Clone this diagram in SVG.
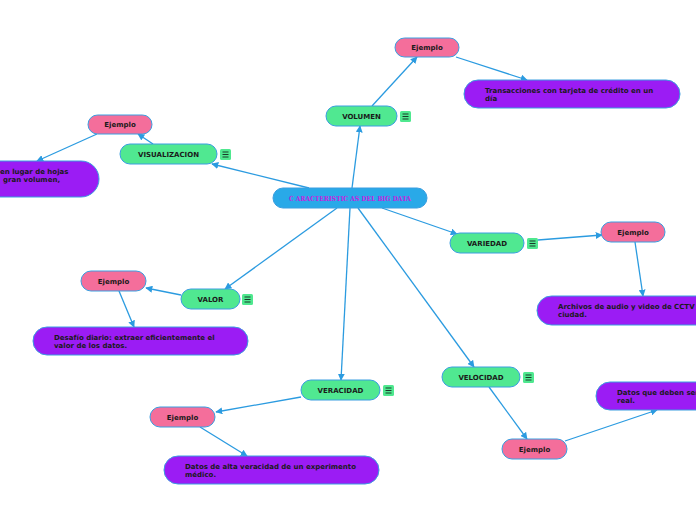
<svg xmlns="http://www.w3.org/2000/svg" width="696" height="520" viewBox="0 0 696 520">
<defs>
<marker id="ah" viewBox="0 0 10 10" refX="9" refY="5" markerWidth="7" markerHeight="7" orient="auto" markerUnits="userSpaceOnUse">
<path d="M0,0 L10,5 L0,10 z" fill="#2b9be0"/>
</marker>
<g id="menu">
<rect x="0" y="0" width="11" height="11" rx="1.5" fill="#4fe88f"/>
<path d="M2.5,3 H8.5 M2.5,5.5 H8.5 M2.5,8 H8.5" stroke="#1a3a2a" stroke-width="1.1"/>
</g>
</defs>
<style>
.c{stroke:#2b9be0;stroke-width:1.3;fill:none;marker-end:url(#ah)}
.n{stroke:#3a9ee0;stroke-width:1}
.g{fill:#50e891}
.p{fill:#f46e9b}
.v{fill:#9b1cf4}
.t{font-family:"DejaVu Sans",Verdana,sans-serif;font-weight:bold;font-size:7px;fill:#1a1a1a}
.m{text-anchor:middle}
</style>
<rect width="696" height="520" fill="#ffffff"/>
<g id="connectors">
<line class="c" x1="352" y1="188" x2="360" y2="126"/>
<line class="c" x1="372" y1="106" x2="417" y2="57"/>
<line class="c" x1="456" y1="57" x2="527" y2="80"/>
<line class="c" x1="309" y1="188" x2="212" y2="164"/>
<line class="c" x1="153" y1="144" x2="138" y2="134"/>
<line class="c" x1="97" y1="134" x2="37" y2="161"/>
<line class="c" x1="382" y1="208" x2="457" y2="234"/>
<line class="c" x1="538" y1="240" x2="602" y2="235"/>
<line class="c" x1="635" y1="242" x2="643" y2="296"/>
<line class="c" x1="337" y1="208" x2="225" y2="289"/>
<line class="c" x1="181" y1="295" x2="146" y2="288"/>
<line class="c" x1="119" y1="291" x2="134" y2="327"/>
<line class="c" x1="350" y1="208" x2="341" y2="380"/>
<line class="c" x1="301" y1="397" x2="216" y2="412"/>
<line class="c" x1="200" y1="427" x2="247" y2="456"/>
<line class="c" x1="358" y1="208" x2="474" y2="367"/>
<line class="c" x1="489" y1="387" x2="527" y2="439"/>
<line class="c" x1="565" y1="441" x2="657" y2="410"/>
</g>
<g id="center">
<rect class="n" x="273" y="188" width="154" height="20" rx="10" fill="#29a9e8"/>
<text x="350" y="200.5" text-anchor="middle" font-family="'DejaVu Serif','Liberation Serif',serif" font-weight="bold" font-size="7" fill="#c51fe0" textLength="122" lengthAdjust="spacingAndGlyphs">C ARACTERISTIC AS DEL BIG DATA</text>
</g>
<g id="volumen">
<rect class="n g" x="326" y="106" width="71" height="20" rx="10"/>
<text class="t m" x="361.5" y="118.5">VOLUMEN</text>
<use href="#menu" x="400" y="111"/>
</g>
<g id="ej-volumen">
<rect class="n p" x="395" y="38" width="64" height="19" rx="9.5"/>
<text class="t m" x="427" y="50">Ejemplo</text>
</g>
<g id="ex-volumen">
<rect class="n v" x="464" y="80" width="216" height="28" rx="14"/>
<text class="t" x="485" y="93">Transacciones con tarjeta de crédito en un</text>
<text class="t" x="485" y="101">día</text>
</g>
<g id="visualizacion">
<rect class="n g" x="120" y="144" width="97" height="20" rx="10"/>
<text class="t m" x="168.5" y="156.5">VISUALIZACION</text>
<use href="#menu" x="220" y="149"/>
</g>
<g id="ej-visualizacion">
<rect class="n p" x="88" y="115" width="64" height="19" rx="9.5"/>
<text class="t m" x="120" y="127">Ejemplo</text>
</g>
<g id="ex-visualizacion">
<rect class="n v" x="-120" y="161" width="219" height="36" rx="18"/>
<text class="t" x="0" y="174">en lugar de hojas</text>
<text class="t" x="3" y="182">gran volumen,</text>
</g>
<g id="variedad">
<rect class="n g" x="450" y="233" width="74" height="20" rx="10"/>
<text class="t m" x="487" y="245.5">VARIEDAD</text>
<use href="#menu" x="527" y="238"/>
</g>
<g id="ej-variedad">
<rect class="n p" x="601" y="222" width="64" height="20" rx="10"/>
<text class="t m" x="633" y="234.5">Ejemplo</text>
</g>
<g id="ex-variedad">
<rect class="n v" x="537" y="296" width="200" height="29" rx="14.5"/>
<text class="t" x="558" y="309">Archivos de audio y video de CCTV</text>
<text class="t" x="558" y="317">ciudad.</text>
</g>
<g id="valor">
<rect class="n g" x="181" y="289" width="59" height="20" rx="10"/>
<text class="t m" x="210.5" y="301.5">VALOR</text>
<use href="#menu" x="242" y="294"/>
</g>
<g id="ej-valor">
<rect class="n p" x="81" y="271" width="65" height="20" rx="10"/>
<text class="t m" x="113.5" y="283.5">Ejemplo</text>
</g>
<g id="ex-valor">
<rect class="n v" x="33" y="327" width="215" height="28" rx="14"/>
<text class="t" x="54" y="340">Desafío diario: extraer eficientemente el</text>
<text class="t" x="54" y="348">valor de los datos.</text>
</g>
<g id="veracidad">
<rect class="n g" x="301" y="380" width="79" height="20" rx="10"/>
<text class="t m" x="340.5" y="392.5">VERACIDAD</text>
<use href="#menu" x="383" y="385"/>
</g>
<g id="ej-veracidad">
<rect class="n p" x="150" y="407" width="65" height="20" rx="10"/>
<text class="t m" x="182.5" y="419.5">Ejemplo</text>
</g>
<g id="ex-veracidad">
<rect class="n v" x="164" y="456" width="215" height="28" rx="14"/>
<text class="t" x="185" y="469">Datos de alta veracidad de un experimento</text>
<text class="t" x="185" y="477">médico.</text>
</g>
<g id="velocidad">
<rect class="n g" x="442" y="367" width="78" height="20" rx="10"/>
<text class="t m" x="481" y="379.5">VELOCIDAD</text>
<use href="#menu" x="523" y="372"/>
</g>
<g id="ej-velocidad">
<rect class="n p" x="502" y="439" width="65" height="20" rx="10"/>
<text class="t m" x="534.5" y="451.5">Ejemplo</text>
</g>
<g id="ex-velocidad">
<rect class="n v" x="596" y="382" width="200" height="28" rx="14"/>
<text class="t" x="617" y="395">Datos que deben ser</text>
<text class="t" x="617" y="403">real.</text>
</g>
</svg>
